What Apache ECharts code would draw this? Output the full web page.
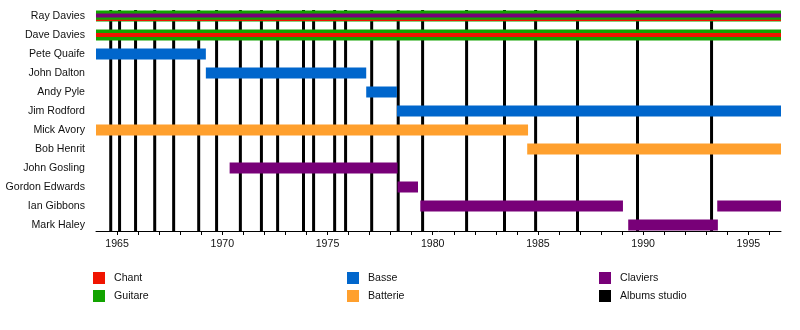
<!DOCTYPE html>
<html>
<head>
<meta charset="utf-8">
<title>The Kinks – chronologie des membres</title>
<script src="https://cdn.jsdelivr.net/npm/echarts@6/dist/echarts.min.js"></script>
<style>
  html, body { margin: 0; padding: 0; background: #fff; }
  #chart { width: 800px; height: 330px; }
</style>
</head>
<body>
<div id="chart"></div>
<script>
// Band members, top to bottom
const members = [
  'Ray Davies', 'Dave Davies', 'Pete Quaife', 'John Dalton', 'Andy Pyle',
  'Jim Rodford', 'Mick Avory', 'Bob Henrit', 'John Gosling',
  'Gordon Edwards', 'Ian Gibbons', 'Mark Haley'
];

const startYear = 1964;
const endYear = 1996.55;

// Membership periods per instrument: [member, from, to]
const chant = [
  ['Dave Davies', 1964, 1996.55]
];
const chantRay = [
  ['Ray Davies', 1964, 1996.55]
];
const guitare = [
  ['Ray Davies', 1964, 1996.55],
  ['Dave Davies', 1964, 1996.55]
];
const clavierRay = [
  ['Ray Davies', 1964, 1996.55]
];
const basse = [
  ['Pete Quaife', 1964, 1969.22],
  ['John Dalton', 1969.22, 1976.84],
  ['Andy Pyle', 1976.84, 1978.3],
  ['Jim Rodford', 1978.3, 1996.55]
];
const batterie = [
  ['Mick Avory', 1964, 1984.53],
  ['Bob Henrit', 1984.49, 1996.55]
];
const claviers = [
  ['John Gosling', 1970.35, 1978.33],
  ['Gordon Edwards', 1978.33, 1979.3],
  ['Ian Gibbons', 1979.41, 1989.04],
  ['Ian Gibbons', 1993.52, 1996.55],
  ['Mark Haley', 1989.29, 1993.55]
];

// Studio album release dates (decimal years)
const albums = [
  1964.70, 1965.12, 1965.88, 1966.79, 1967.69, 1968.88, 1969.73, 1970.86,
  1971.86, 1972.63, 1973.86, 1974.34, 1975.34, 1975.86, 1977.10, 1978.36,
  1979.52, 1981.61, 1983.41, 1984.89, 1986.88, 1989.73, 1993.25
];

const yearTickLabels = [1965, 1970, 1975, 1980, 1985, 1990, 1995];

const COLORS = {
  chant: '#f01400',
  guitare: '#12a300',
  basse: '#0066cc',
  batterie: '#ffa02e',
  claviers: '#780078',
  albums: '#000000'
};

const FONT = 'Liberation Sans, Arial, sans-serif';
const FONT_SIZE = 10.6;
const AXIS_INSET = 3.5;

function toRows(list) {
  return list.map(function (d) { return [members.indexOf(d[0]), d[1], d[2]]; });
}

// Draws a period as a horizontal band; thickness and shift are fractions of the row height
function barRenderer(thickness, shift) {
  return function (params, api) {
    const row = api.value(0);
    const p0 = api.coord([api.value(1), row]);
    const p1 = api.coord([api.value(2), row]);
    const band = api.size([0, 1])[1];
    const h = band * thickness;
    const cy = p0[1] + band * shift;
    return {
      type: 'rect',
      shape: { x: p0[0], y: cy - h / 2, width: p1[0] - p0[0], height: h },
      style: api.style()
    };
  };
}

function barSeries(name, list, color, thickness, shift, z) {
  return {
    type: 'custom',
    name: name,
    renderItem: barRenderer(thickness, shift),
    encode: { x: [1, 2], y: 0 },
    itemStyle: { color: color },
    data: toRows(list),
    z: z,
    silent: true
  };
}

const FULL = 11 / 19;
const INNER = 4 / 19;
const THIN = 1.2 / 19;

const albumSeries = {
  type: 'custom',
  name: 'Albums studio',
  itemStyle: { color: COLORS.albums },
  encode: { x: 0, y: 1 },
  data: albums.map(function (y) { return [y, 0]; }),
  z: 1,
  silent: true,
  renderItem: function (params, api) {
    const x = api.coord([api.value(0), 0])[0];
    const cs = params.coordSys;
    return {
      type: 'line',
      shape: { x1: x, y1: cs.y + AXIS_INSET, x2: x, y2: cs.y + cs.height - AXIS_INSET },
      style: { stroke: COLORS.albums, lineWidth: 3 }
    };
  }
};

function legendBlock(left, names) {
  return {
    orient: 'vertical',
    left: left,
    top: 267,
    itemWidth: 12,
    itemHeight: 12,
    itemGap: 6,
    icon: 'rect',
    selectedMode: false,
    data: names,
    textStyle: { fontFamily: FONT, fontSize: FONT_SIZE, color: '#111', lineHeight: 12, padding: [0, 0, 0, 4] }
  };
}

const chart = echarts.init(document.getElementById('chart'), null, { renderer: 'canvas' });

chart.setOption({
  animation: false,
  backgroundColor: '#fff',
  grid: { left: 96, right: 19, top: 6.5, height: 228, containLabel: false },
  xAxis: {
    type: 'value',
    min: startYear,
    max: endYear,
    interval: 1,
    offset: -AXIS_INSET,
    axisLine: { show: true, lineStyle: { color: '#000', width: 1 } },
    axisTick: { show: true, length: 4, lineStyle: { color: '#000', width: 1 } },
    splitLine: { show: false },
    axisLabel: {
      margin: 8,
      fontFamily: FONT,
      fontSize: FONT_SIZE,
      color: '#111',
      showMinLabel: false,
      showMaxLabel: false,
      formatter: function (v) {
        return yearTickLabels.indexOf(v) >= 0 ? String(v) : '';
      }
    }
  },
  yAxis: {
    type: 'category',
    inverse: true,
    data: members,
    axisLine: { show: false },
    axisTick: { show: false },
    splitLine: { show: false },
    axisLabel: { margin: 11, fontFamily: FONT, fontSize: FONT_SIZE, color: '#111' }
  },
  legend: [
    legendBlock(88, ['Chant', 'Guitare']),
    legendBlock(342, ['Basse', 'Batterie']),
    legendBlock(594, ['Claviers', 'Albums studio'])
  ],
  series: [
    albumSeries,
    barSeries('Guitare', guitare, COLORS.guitare, FULL, 0, 2),
    barSeries('Basse', basse, COLORS.basse, FULL, 0, 2),
    barSeries('Batterie', batterie, COLORS.batterie, FULL, 0, 2),
    barSeries('Claviers', claviers, COLORS.claviers, FULL, 0, 2),
    barSeries('Claviers', clavierRay, COLORS.claviers, INNER, -0.02, 3),
    barSeries('Chant', chant, COLORS.chant, INNER, 0, 3),
    barSeries('Chant', chantRay, COLORS.chant, THIN, FULL / 2 - THIN, 3)
  ]
});
</script>
</body>
</html>
